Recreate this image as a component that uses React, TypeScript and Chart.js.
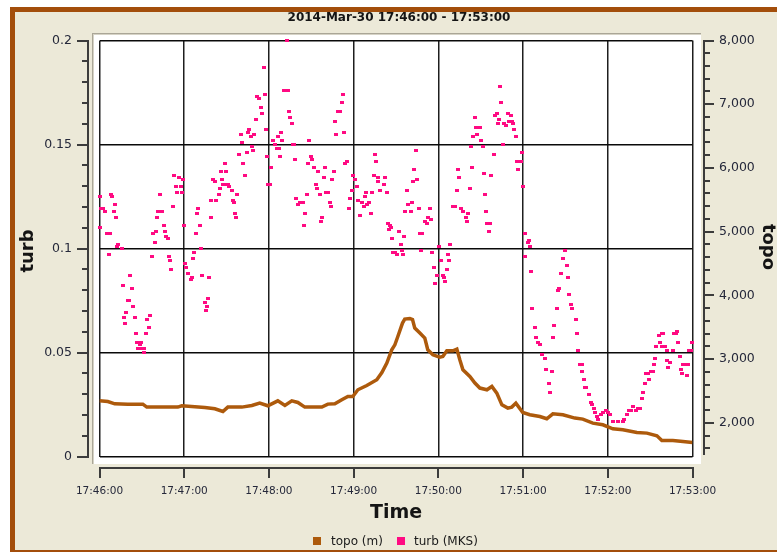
import React, { useEffect, useRef } from 'react';
import { Chart, registerables } from 'chart.js';

Chart.register(...registerables);

const TITLE = '2014-Mar-30 17:46:00 - 17:53:00';
const X_TITLE = 'Time';
const LEFT_TITLE = 'turb';
const RIGHT_TITLE = 'topo';
const LEGEND_LABELS = ['topo (m)', 'turb (MKS)'];

// seconds after 17:46:00
const X_TICKS = [0, 60, 120, 180, 240, 300, 360, 420];
const X_TICK_LABELS = ['17:46:00', '17:47:00', '17:48:00', '17:49:00', '17:50:00', '17:51:00', '17:52:00', '17:53:00'];
const TURB_TICKS = [0, 0.05, 0.1, 0.15, 0.2];
const TURB_TICK_LABELS = ['0', '0.05', '0.1', '0.15', '0.2'];
const TURB_MINOR_STEP = 0.01;
const TOPO_TICKS = [2000, 3000, 4000, 5000, 6000, 7000, 8000];
const TOPO_TICK_LABELS = ['2,000', '3,000', '4,000', '5,000', '6,000', '7,000', '8,000'];
const TOPO_MINOR_STEP = 200;
const TOPO_MIN = 1471;
const TOPO_MAX = 8000;

// topo (m): [seconds, value]
const topoData: [number, number][] = [
  [0, 2345], [5.9, 2334], [10.8, 2298], [20.0, 2293], [30.7, 2293], [33.5, 2246], [55.5, 2246],
  [58.3, 2267], [74.6, 2241], [81.7, 2220], [87.4, 2177], [90.9, 2246], [100.8, 2246], [107.9, 2272],
  [113.5, 2309], [119.2, 2267], [126.3, 2345], [131.3, 2272], [136.2, 2345], [140.5, 2319], [145.4, 2246],
  [157.5, 2246], [161.7, 2293], [166.7, 2298], [171.6, 2361], [175.9, 2413], [179.4, 2413], [183.0, 2518],
  [189.3, 2586], [196.4, 2675], [200.0, 2789], [203.5, 2937], [207.0, 3146], [209.2, 3224], [211.3, 3354],
  [214.6, 3565], [216.2, 3627], [219.8, 3637], [221.7, 3620], [223.3, 3486], [226.9, 3408], [230.4, 3329],
  [232.5, 3146], [236.1, 3067], [241.0, 3031], [243.2, 3040], [246.0, 3130], [250.3, 3130], [253.1, 3157],
  [255.2, 2989], [257.4, 2832], [262.3, 2727], [265.9, 2623], [269.4, 2545], [274.4, 2518], [277.9, 2570],
  [281.4, 2466], [285.0, 2282], [289.2, 2230], [292.0, 2246], [294.9, 2309], [299.8, 2162], [304.8, 2126],
  [311.9, 2099], [316.8, 2063], [321.1, 2141], [328.2, 2126], [336.7, 2074], [342.3, 2058], [349.4, 1995],
  [356.5, 1969], [363.6, 1906], [370.7, 1890], [380.6, 1848], [387.7, 1838], [394.8, 1796], [398.3, 1722],
  [406.1, 1722], [413.2, 1707], [420.0, 1691],
];

// turb (MKS): [seconds, value]
const turbData: [number, number][] = [
  [0, 0.110], [0.2, 0.125], [1.4, 0.119], [2.5, 0.119], [3.8, 0.118], [5.4, 0.107], [6.4, 0.097], [7.3, 0.107],
  [8.0, 0.126], [8.7, 0.125], [10.1, 0.118], [10.8, 0.121], [12.0, 0.115], [12.7, 0.101], [13.2, 0.102],
  [15.6, 0.100], [16.3, 0.082], [17.2, 0.067], [18.1, 0.064], [18.8, 0.069], [20.0, 0.075], [20.8, 0.075],
  [21.5, 0.087], [22.7, 0.081], [23.6, 0.072], [25.2, 0.067], [26.2, 0.059], [26.9, 0.055], [27.6, 0.052],
  [28.8, 0.054], [29.7, 0.055], [30.2, 0.052], [31.4, 0.052], [31.6, 0.050], [32.6, 0.059], [33.5, 0.066],
  [35.1, 0.062], [36.1, 0.068], [37.0, 0.096], [38.0, 0.107], [39.0, 0.103], [39.9, 0.108], [40.6, 0.115],
  [41.3, 0.118], [42.7, 0.126], [44.1, 0.118], [45.5, 0.111], [46.3, 0.108], [47.2, 0.106], [48.2, 0.105],
  [48.9, 0.096], [49.8, 0.094], [50.7, 0.090], [51.9, 0.120], [52.6, 0.135], [54.5, 0.130], [55.2, 0.127],
  [56.2, 0.134], [57.6, 0.130], [58.1, 0.127], [59.0, 0.133], [59.7, 0.111], [60.6, 0.093], [61.6, 0.091],
  [62.5, 0.088], [64.5, 0.085], [65.2, 0.086], [66.1, 0.095], [67.0, 0.098], [68.0, 0.107], [68.9, 0.117],
  [69.6, 0.119], [71.0, 0.111], [71.8, 0.100], [72.5, 0.087], [74.4, 0.074], [75.3, 0.070], [76.2, 0.072],
  [76.9, 0.076], [77.9, 0.086], [78.8, 0.115], [79.3, 0.123], [80.7, 0.133], [81.7, 0.132], [82.2, 0.123],
  [84.5, 0.126], [85.2, 0.129], [85.9, 0.137], [86.6, 0.133], [87.5, 0.131], [88.8, 0.141], [89.5, 0.131],
  [89.7, 0.137], [91.1, 0.131], [91.6, 0.130], [93.5, 0.128], [94.2, 0.123], [95.3, 0.122], [95.8, 0.117],
  [97.0, 0.115], [97.7, 0.126], [98.9, 0.145], [99.9, 0.155], [100.6, 0.151], [101.5, 0.141], [103.4, 0.135],
  [104.3, 0.146], [105.3, 0.156], [106.2, 0.157], [107.0, 0.154], [107.7, 0.149], [108.8, 0.147], [109.5, 0.155],
  [110.7, 0.162], [111.4, 0.173], [113.3, 0.172], [114.3, 0.168], [115.2, 0.165], [116.2, 0.187], [117.1, 0.174],
  [117.8, 0.157], [118.7, 0.144], [119.4, 0.131], [120.6, 0.131], [121.3, 0.139], [123.2, 0.152], [124.2, 0.150],
  [125.4, 0.148], [126.1, 0.154], [126.8, 0.148], [127.9, 0.144], [128.6, 0.156], [129.6, 0.152], [130.5, 0.176],
  [132.5, 0.200], [133.2, 0.176], [134.1, 0.166], [135.0, 0.163], [136.0, 0.160], [136.9, 0.150], [137.8, 0.150],
  [138.8, 0.143], [139.5, 0.124], [140.7, 0.121], [142.1, 0.122], [144.2, 0.122], [144.9, 0.111], [145.9, 0.117],
  [146.8, 0.126], [147.8, 0.141], [148.7, 0.152], [149.7, 0.144], [150.6, 0.143], [152.0, 0.139], [153.2, 0.131],
  [154.1, 0.129], [154.8, 0.137], [156.0, 0.126], [156.7, 0.113], [157.7, 0.115], [158.7, 0.134], [159.6, 0.139],
  [160.5, 0.127], [161.9, 0.127], [163.1, 0.122], [164.3, 0.120], [165.0, 0.133], [166.0, 0.137], [166.9, 0.161],
  [167.6, 0.155], [168.6, 0.166], [170.0, 0.166], [171.4, 0.170], [172.3, 0.174], [173.3, 0.156], [174.0, 0.141],
  [175.0, 0.142], [176.8, 0.119], [177.5, 0.124], [178.5, 0.128], [179.4, 0.135], [180.8, 0.133], [182.2, 0.130],
  [183.2, 0.123], [184.6, 0.116], [185.6, 0.122], [187.0, 0.120], [187.7, 0.125], [188.6, 0.127], [189.8, 0.121],
  [191.2, 0.122], [192.2, 0.117], [193.1, 0.127], [194.1, 0.135], [195.0, 0.145], [195.9, 0.142], [196.9, 0.132],
  [197.6, 0.134], [198.8, 0.128], [201.2, 0.131], [202.3, 0.134], [203.3, 0.127], [204.0, 0.112], [204.9, 0.109],
  [205.6, 0.111], [206.8, 0.110], [207.5, 0.105], [208.2, 0.098], [209.0, 0.098], [210.4, 0.097], [212.0, 0.108],
  [213.4, 0.102], [214.6, 0.099], [215.0, 0.097], [215.8, 0.106], [216.7, 0.118], [217.7, 0.128], [218.6, 0.121],
  [220.3, 0.118], [221.0, 0.122], [222.1, 0.132], [222.8, 0.138], [224.0, 0.147], [224.7, 0.133], [226.0, 0.119],
  [226.9, 0.107], [227.6, 0.099], [228.5, 0.107], [230.2, 0.113], [232.0, 0.112], [232.8, 0.115], [234.0, 0.119],
  [234.9, 0.114], [235.6, 0.098], [236.8, 0.091], [237.5, 0.083], [238.7, 0.087], [240.5, 0.101], [241.7, 0.094],
  [243.4, 0.087], [244.1, 0.086], [244.8, 0.084], [245.8, 0.090], [246.7, 0.097], [247.6, 0.094], [248.3, 0.102],
  [250.5, 0.120], [251.9, 0.120], [252.9, 0.128], [253.8, 0.138], [254.7, 0.134], [255.9, 0.119], [257.1, 0.118],
  [259.4, 0.115], [260.4, 0.113], [261.1, 0.117], [262.1, 0.129], [263.0, 0.149], [263.7, 0.139], [264.6, 0.154],
  [265.8, 0.163], [266.5, 0.158], [267.5, 0.155], [269.4, 0.158], [270.3, 0.152], [271.3, 0.149], [272.0, 0.136],
  [272.9, 0.126], [273.8, 0.118], [274.8, 0.112], [275.7, 0.108], [276.4, 0.112], [277.4, 0.135], [279.3, 0.145],
  [280.2, 0.164], [281.2, 0.165], [282.1, 0.160], [283.0, 0.162], [283.8, 0.178], [284.7, 0.170], [285.9, 0.150],
  [286.6, 0.160], [287.6, 0.159], [289.2, 0.165], [290.1, 0.161], [291.1, 0.164], [292.0, 0.161], [293.0, 0.160],
  [293.7, 0.157], [294.7, 0.154], [295.4, 0.142], [296.5, 0.138], [298.2, 0.142], [299.1, 0.146], [300.0, 0.130],
  [301.2, 0.107], [301.7, 0.096], [303.2, 0.103], [304.3, 0.104], [304.8, 0.101], [305.5, 0.089], [306.4, 0.071],
  [308.1, 0.062], [309.0, 0.057], [310.5, 0.055], [311.9, 0.054], [313.1, 0.049], [315.4, 0.047], [316.3, 0.042],
  [318.2, 0.035], [319.2, 0.031], [320.2, 0.041], [320.9, 0.057], [322.0, 0.063], [323.7, 0.071], [324.4, 0.080],
  [325.6, 0.081], [326.6, 0.088], [328.4, 0.095], [329.4, 0.099], [331.0, 0.092], [331.9, 0.086], [332.6, 0.078],
  [333.6, 0.073], [334.8, 0.071], [337.2, 0.066], [338.1, 0.059], [339.0, 0.051], [340.0, 0.044], [341.4, 0.044],
  [341.8, 0.041], [342.8, 0.037], [343.7, 0.033], [344.9, 0.033], [346.8, 0.030], [347.8, 0.026], [348.7, 0.025],
  [350.1, 0.023], [350.8, 0.021], [352.2, 0.019], [353.4, 0.018], [354.9, 0.020], [356.7, 0.021], [358.6, 0.022],
  [360.0, 0.021], [361.4, 0.020], [363.4, 0.017], [367.3, 0.017], [370.9, 0.017], [371.8, 0.018], [373.3, 0.020],
  [374.7, 0.022], [376.1, 0.022], [377.9, 0.024], [379.9, 0.022], [381.3, 0.023], [382.7, 0.023], [383.9, 0.028],
  [384.6, 0.031], [386.2, 0.035], [387.4, 0.040], [388.6, 0.040], [389.0, 0.037], [390.5, 0.041], [392.1, 0.041],
  [392.6, 0.044], [393.3, 0.047], [394.5, 0.053], [396.4, 0.058], [396.9, 0.055], [398.1, 0.059], [398.5, 0.053],
  [399.2, 0.059], [400.6, 0.053], [401.6, 0.051], [402.0, 0.046], [403.0, 0.043], [404.0, 0.045], [406.3, 0.051],
  [406.8, 0.059], [408.0, 0.059], [409.1, 0.060], [409.8, 0.055], [411.0, 0.048], [411.8, 0.042], [412.7, 0.040],
  [413.4, 0.044], [415.3, 0.044], [416.2, 0.039], [416.9, 0.044], [417.4, 0.051], [418.6, 0.051], [419.3, 0.055],
];

const BROWN = '#ad5a0c';
const PINK = '#ff0a82';
const FRAME = '#a34e0b';
const BEIGE = '#ece9d8';
const AXIS = '#3c3c3c';
const LABEL = '#25283a';
const FONT = '"DejaVu Sans", Verdana, sans-serif';

const framePlugin = {
  id: 'frame',
  beforeDraw(chart: any) {
    const ctx = chart.ctx as CanvasRenderingContext2D;
    ctx.save();
    ctx.fillStyle = '#ffffff';
    ctx.fillRect(0, 0, chart.width, chart.height);
    ctx.fillStyle = FRAME;
    ctx.fillRect(10, 7, chart.width - 10, 5);
    ctx.fillRect(10, 7, 5, chart.height - 7);
    ctx.fillRect(10, 550, chart.width - 10, 2);
    ctx.fillStyle = BEIGE;
    ctx.fillRect(15, 12, chart.width - 15, 538);
    // plot panel
    ctx.fillStyle = '#ffffff';
    ctx.fillRect(92, 33, 609, 431);
    ctx.fillStyle = '#aaa697';
    ctx.fillRect(92, 33, 609, 1);
    ctx.fillRect(92, 33, 1, 431);
    ctx.fillStyle = '#d6d3c6';
    ctx.fillRect(93, 34, 608, 1);
    ctx.fillRect(93, 34, 1, 430);
    ctx.restore();
  },
  afterDraw(chart: any) {
    const ctx = chart.ctx as CanvasRenderingContext2D;
    const xs = chart.scales.x;
    const ys = chart.scales.y;
    const y1 = chart.scales.y1;
    const seg = (x1: number, yA: number, x2: number, yB: number) => {
      ctx.beginPath();
      ctx.moveTo(x1, yA);
      ctx.lineTo(x2, yB);
      ctx.stroke();
    };
    ctx.save();
    ctx.strokeStyle = AXIS;
    ctx.lineWidth = 2;

    // left axis (turb)
    const lTop = Math.round(ys.getPixelForValue(TURB_TICKS[TURB_TICKS.length - 1]));
    const lBot = Math.round(ys.getPixelForValue(TURB_TICKS[0]));
    seg(88, lTop - 1, 88, lBot + 1);
    const nMinor = Math.round((TURB_TICKS[TURB_TICKS.length - 1] - TURB_TICKS[0]) / TURB_MINOR_STEP);
    for (let i = 0; i <= nMinor; i++) {
      const py = Math.round(ys.getPixelForValue(TURB_TICKS[0] + i * TURB_MINOR_STEP));
      seg(i % 5 === 0 ? 77 : 82, py, 88, py);
    }

    // right axis (topo)
    const rTop = Math.round(y1.getPixelForValue(TOPO_MAX));
    const rBot = Math.round(y1.getPixelForValue(TOPO_MIN)) - 2;
    seg(704, rTop - 1, 704, rBot);
    for (let v = Math.ceil(TOPO_MIN / TOPO_MINOR_STEP) * TOPO_MINOR_STEP; v <= TOPO_MAX; v += TOPO_MINOR_STEP) {
      const py = Math.round(y1.getPixelForValue(v));
      seg(704, py, v % 1000 === 0 ? 714 : 710, py);
    }

    // bottom axis (time)
    const bx0 = Math.round(xs.getPixelForValue(X_TICKS[0]));
    const bx1 = Math.round(xs.getPixelForValue(X_TICKS[X_TICKS.length - 1]));
    seg(bx0 - 1, 468, bx1 + 1, 468);
    X_TICKS.forEach((v) => {
      const px = Math.round(xs.getPixelForValue(v));
      seg(px, 468, px, 478);
    });

    // tick labels
    ctx.fillStyle = LABEL;
    ctx.font = `12.5px ${FONT}`;
    ctx.textBaseline = 'middle';
    ctx.textAlign = 'right';
    TURB_TICKS.forEach((v, i) => ctx.fillText(TURB_TICK_LABELS[i], 72, ys.getPixelForValue(v)));
    ctx.textAlign = 'left';
    TOPO_TICKS.forEach((v, i) => ctx.fillText(TOPO_TICK_LABELS[i], 719, y1.getPixelForValue(v)));
    ctx.font = `10.5px ${FONT}`;
    ctx.textAlign = 'center';
    X_TICKS.forEach((v, i) => ctx.fillText(X_TICK_LABELS[i], xs.getPixelForValue(v), 491));

    // titles
    ctx.fillStyle = '#141414';
    ctx.font = `bold 12px ${FONT}`;
    ctx.fillText(TITLE, 399, 18);
    ctx.font = `bold 19px ${FONT}`;
    ctx.fillText(X_TITLE, 396, 513);
    ctx.font = `bold 18px ${FONT}`;
    ctx.save();
    ctx.translate(28, 251);
    ctx.rotate(-Math.PI / 2);
    ctx.fillText(LEFT_TITLE, 0, 0);
    ctx.restore();
    ctx.save();
    ctx.translate(768, 247);
    ctx.rotate(Math.PI / 2);
    ctx.fillText(RIGHT_TITLE, 0, 0);
    ctx.restore();

    // legend
    ctx.font = `12px ${FONT}`;
    ctx.textAlign = 'left';
    ctx.fillStyle = BROWN;
    ctx.fillRect(313, 537, 8, 8);
    ctx.fillStyle = PINK;
    ctx.fillRect(397, 537, 8, 8);
    ctx.fillStyle = '#1a1a1a';
    ctx.fillText(LEGEND_LABELS[0], 331, 541.5);
    ctx.fillText(LEGEND_LABELS[1], 414, 541.5);
    ctx.restore();
  },
};

export default function App() {
  const ref = useRef<HTMLCanvasElement>(null);
  useEffect(() => {
    const canvas = ref.current;
    if (!canvas) return;
    const dot = document.createElement('canvas');
    dot.width = 4;
    dot.height = 3;
    const dctx = dot.getContext('2d');
    if (dctx) {
      dctx.fillStyle = PINK;
      dctx.fillRect(0, 0, 4, 3);
    }
    const chart = new Chart(canvas, {
      type: 'scatter',
      data: {
        datasets: [
          {
            label: LEGEND_LABELS[1],
            data: turbData.map(([t, v]) => ({ x: t, y: v })),
            yAxisID: 'y',
            pointStyle: dot as any,
            pointRadius: 2,
            backgroundColor: PINK,
            borderColor: PINK,
            showLine: false,
            clip: false as any,
          },
          {
            type: 'line' as any,
            label: LEGEND_LABELS[0],
            data: topoData.map(([t, v]) => ({ x: t, y: v })),
            yAxisID: 'y1',
            borderColor: BROWN,
            backgroundColor: BROWN,
            borderWidth: 3.5,
            pointRadius: 0,
            showLine: true,
            fill: false,
            tension: 0,
            borderJoinStyle: 'miter',
          } as any,
        ],
      },
      options: {
        animation: false,
        responsive: false,
        devicePixelRatio: 1,
        events: [],
        layout: { padding: { left: 99.5, right: 84.5, top: 40.5, bottom: 95.5 } },
        plugins: {
          legend: { display: false },
          title: { display: false },
          tooltip: { enabled: false },
        },
        scales: {
          x: {
            type: 'linear',
            min: X_TICKS[0],
            max: X_TICKS[X_TICKS.length - 1],
            afterBuildTicks: (s: any) => {
              s.ticks = X_TICKS.map((v) => ({ value: v }));
            },
            ticks: { display: false },
            grid: { color: '#1e1e1e', lineWidth: 1.5, drawTicks: false },
            border: { display: false },
          },
          y: {
            type: 'linear',
            position: 'left',
            min: TURB_TICKS[0],
            max: TURB_TICKS[TURB_TICKS.length - 1],
            afterBuildTicks: (s: any) => {
              s.ticks = TURB_TICKS.map((v) => ({ value: v }));
            },
            ticks: { display: false },
            grid: { color: '#0a0a0a', lineWidth: 1.5, drawTicks: false },
            border: { display: false },
          },
          y1: {
            type: 'linear',
            position: 'right',
            min: TOPO_MIN,
            max: TOPO_MAX,
            ticks: { display: false },
            grid: { display: false, drawTicks: false },
            border: { display: false },
          },
        },
      } as any,
      plugins: [framePlugin],
    });
    return () => chart.destroy();
  }, []);
  return (
    <div style={{ position: 'absolute', left: 0, top: 0, width: 777, height: 552 }}>
      <canvas ref={ref} width={777} height={552} style={{ display: 'block', width: '777px', height: '552px' }} />
    </div>
  );
}
